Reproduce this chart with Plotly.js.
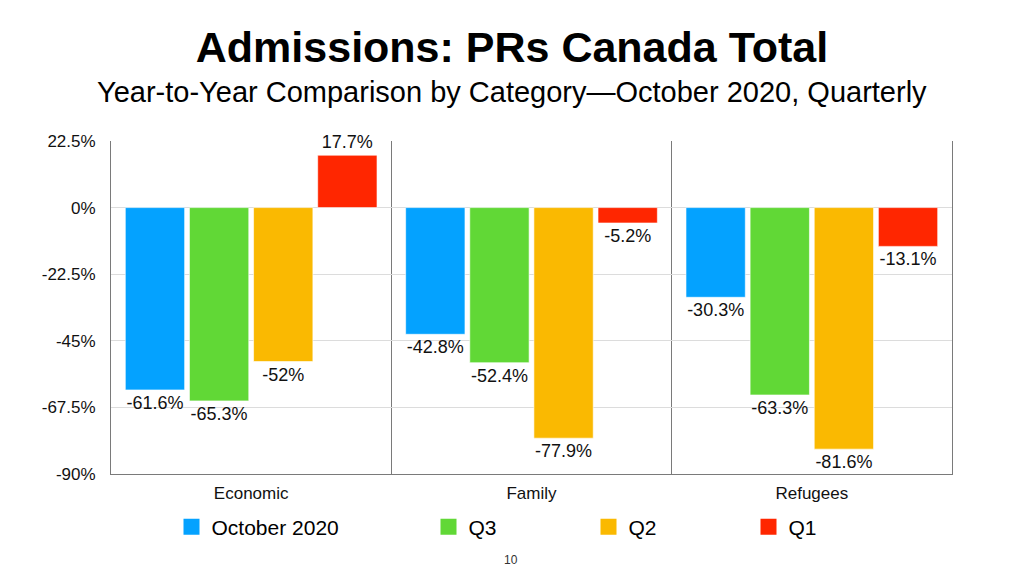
<!DOCTYPE html>
<html>
<head>
<meta charset="utf-8">
<script src="https://cdn.plot.ly/plotly-3.0.1.min.js"></script>
<style>html,body{margin:0;padding:0;background:#fff;}#chart{width:1024px;height:576px;}</style>
</head>
<body>
<div id="chart"></div>
<script>
const categories = ["Economic", "Family", "Refugees"];
const seriesNames = ["October 2020", "Q3", "Q2", "Q1"];
const october2020 = [-61.6, -42.8, -30.3];
const q3 = [-65.3, -52.4, -63.3];
const q2 = [-52, -77.9, -81.6];
const q1 = [17.7, -5.2, -13.1];
const tickValues = [-90, -67.5, -45, -22.5, 0, 22.5];
const tickLabels = ["-90%", "-67.5%", "-45%", "-22.5%", "0%", "22.5%"];

const colors = ["#04A2FF", "#61D836", "#FAB901", "#FF2600"];
const allSeries = [october2020, q3, q2, q1];
const legendIds = ["legend", "legend2", "legend3", "legend4"];
const legendCenters = [191.5, 448.5, 608.5, 768.5];

const font = "Liberation Sans, Arial, Helvetica, sans-serif";

const traces = allSeries.map((vals, i) => ({
  type: "bar",
  name: seriesNames[i],
  x: categories,
  y: vals,
  marker: {color: colors[i], line: {color: "rgba(255,255,255,0.6)", width: 1}},
  text: vals.map(v => v + "%"),
  textposition: "outside",
  cliponaxis: false,
  textfont: {family: font, size: 18, color: "#111"},
  hoverinfo: "none",
  showlegend: false
}));

// legend-only entries with larger square swatches
allSeries.forEach((vals, i) => {
  traces.push({
    type: "scatter",
    mode: "markers",
    name: seriesNames[i],
    x: [null],
    y: [null],
    marker: {symbol: "square", size: 19, color: colors[i]},
    showlegend: true,
    legend: legendIds[i],
    hoverinfo: "none"
  });
});

const layout = {
  width: 1024,
  height: 576,
  paper_bgcolor: "#fff",
  plot_bgcolor: "#fff",
  margin: {l: 111, r: 72, t: 141, b: 102},
  font: {family: font, color: "#111"},
  barmode: "group",
  bargap: 0.085,
  bargroupgap: 0.075,
  title: {
    text: "<b>Admissions: PRs Canada Total</b>",
    font: {family: font, size: 43, color: "#000"},
    x: 0.5, xref: "container", xanchor: "center",
    y: 1 - 47/576, yref: "container", yanchor: "middle"
  },
  annotations: [
    {text: "Year-to-Year Comparison by Category\u2014October 2020, Quarterly",
     xref: "paper", yref: "paper", x: (512-111)/841, y: (474-92)/333,
     xanchor: "center", yanchor: "middle", showarrow: false,
     font: {family: font, size: 29, color: "#000"}},
    {text: "10", xref: "paper", yref: "paper", x: (511-111)/841, y: (474-560)/333,
     xanchor: "center", yanchor: "middle", showarrow: false,
     font: {family: font, size: 12, color: "#333"}}
  ],
  xaxis: {
    type: "category",
    tickson: "boundaries",
    showgrid: true,
    gridcolor: "#7a7a7a",
    gridwidth: 1,
    showline: true,
    linecolor: "#7a7a7a",
    linewidth: 1,
    ticks: "",
    ticklabelstandoff: 4,
    tickfont: {family: font, size: 17, color: "#111"},
    fixedrange: true
  },
  yaxis: {
    range: [-90, 22.5],
    tickvals: tickValues,
    ticktext: tickLabels,
    showgrid: true,
    gridcolor: "#dcdcdc",
    zeroline: true,
    zerolinecolor: "#dcdcdc",
    zerolinewidth: 1,
    showline: true,
    mirror: true,
    linecolor: "#7a7a7a",
    linewidth: 1,
    ticks: "",
    ticklabelstandoff: 11,
    tickfont: {family: font, size: 17, color: "#111"},
    fixedrange: true
  },
  showlegend: true
};

legendIds.forEach((id, i) => {
  layout[id] = {
    orientation: "h",
    xref: "container", yref: "container",
    x: (legendCenters[i] - 20) / 1024, xanchor: "left",
    y: 1 - 527/576, yanchor: "middle",
    itemsizing: "trace",
    font: {family: font, size: 21, color: "#000"},
    bgcolor: "rgba(0,0,0,0)"
  };
});

Plotly.newPlot("chart", traces, layout, {staticPlot: true});
</script>
</body>
</html>
